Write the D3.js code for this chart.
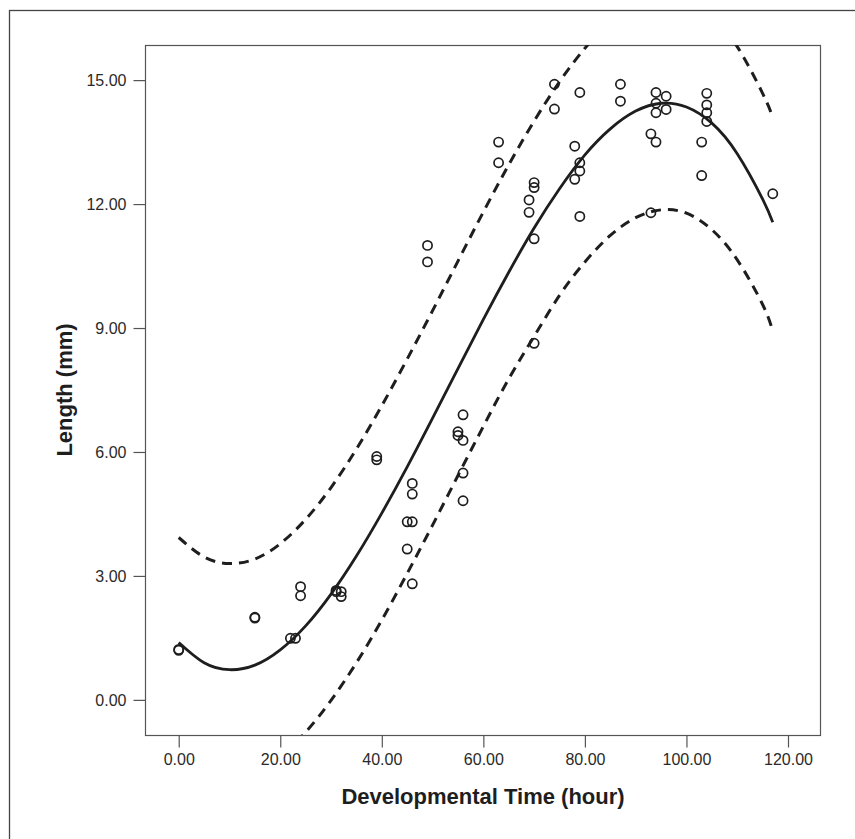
<!DOCTYPE html>
<html>
<head>
<meta charset="utf-8">
<script src="https://cdn.jsdelivr.net/npm/d3@7"></script>
<style>
  html, body { margin: 0; padding: 0; background: #fff; }
  svg { display: block; }
</style>
</head>
<body>
<script>
// ---- data ----
const pointX = [0, 0, 15, 15, 22, 23, 24, 24, 31, 31, 32, 32,
  39, 39, 45, 45, 46, 46, 46, 46, 49, 49,
  55, 55, 56, 56, 56, 56, 63, 63,
  69, 69, 70, 70, 70, 70, 74, 74,
  78, 78, 79, 79, 79, 79, 87, 87,
  93, 93, 94, 94, 94, 94, 96, 96,
  103, 103, 104, 104, 104, 104, 117];
const pointY = [1.20, 1.22, 1.98, 2.00, 1.49, 1.49, 2.74, 2.52, 2.62, 2.65, 2.62, 2.50,
  5.89, 5.81, 4.31, 3.65, 4.31, 5.24, 4.98, 2.81, 11.00, 10.60,
  6.49, 6.40, 6.90, 6.28, 5.49, 4.82, 13.50, 13.00,
  12.10, 11.80, 12.52, 12.40, 11.16, 8.63, 14.90, 14.30,
  13.40, 12.60, 14.70, 13.00, 12.80, 11.70, 14.90, 14.49,
  13.70, 11.79, 14.70, 14.44, 14.21, 13.50, 14.61, 14.29,
  13.50, 12.69, 14.68, 14.40, 14.21, 14.00, 12.25];

// fitted curve and 95% bands
const curveX = [0, 5, 10, 15, 20, 25, 30, 35, 40, 45, 50, 55, 60, 65, 70, 75, 80, 85, 90, 95, 100, 105, 110, 115, 117];
const fitY   = [1.39, 0.90, 0.73, 0.84, 1.21, 1.79, 2.56, 3.48, 4.52, 5.64, 6.82, 8.02, 9.21, 10.35, 11.42, 12.37, 13.19, 13.82, 14.25, 14.44, 14.35, 13.96, 13.22, 12.12, 11.56];
const upperY = [3.93, 3.46, 3.30, 3.41, 3.78, 4.37, 5.14, 6.07, 7.12, 8.25, 9.42, 10.62, 11.81, 12.95, 14.01, 14.96, 15.77, 16.41, 16.84, 17.03, 16.95, 16.55, 15.81, 14.68, 14.10];
const lowerY = [-1.18, -1.67, -1.84, -1.73, -1.36, -0.78, -0.01, 0.90, 1.93, 3.06, 4.23, 5.43, 6.62, 7.77, 8.80, 9.79, 10.60, 11.24, 11.67, 11.86, 11.78, 11.38, 10.65, 9.57, 8.92];

const xTicks = [0, 20, 40, 60, 80, 100, 120];
const yTicks = [0, 3, 6, 9, 12, 15];
const xTitle = "Developmental Time (hour)";
const yTitle = "Length (mm)";

// ---- drawing ----
(function () {
const W = 855, H = 839;
const pL = 145, pR = 821, pT = 45, pB = 735;
const ink = "#1e1e1e";
const font = "'Liberation Sans', Arial, Helvetica, sans-serif";

const svg = d3.select("body").append("svg").attr("width", W).attr("height", H);

// outer frame (extends beyond picture on right/bottom)
svg.append("rect").attr("x", 9.5).attr("y", 10.5).attr("width", 900).attr("height", 900)
  .attr("fill", "none").attr("stroke", "#444").attr("stroke-width", 1.3);

const x = d3.scaleLinear().domain([-6.64, 126.5]).range([pL, pR]);
const y = d3.scaleLinear().domain([-0.85, 15.85]).range([pB, pT]);

svg.append("defs").append("clipPath").attr("id", "clip")
  .append("rect").attr("x", pL).attr("y", pT).attr("width", pR - pL).attr("height", pB - pT);

// plot frame
svg.append("rect").attr("x", pL + 0.5).attr("y", pT + 0.5)
  .attr("width", pR - pL - 1).attr("height", pB - pT)
  .attr("fill", "none").attr("stroke", "#555").attr("stroke-width", 1.2);

// axes
const xAxis = d3.axisBottom(x).tickValues(xTicks).tickSize(12).tickPadding(6).tickFormat(d3.format(".2f"));
const yAxis = d3.axisLeft(y).tickValues(yTicks).tickSize(12).tickPadding(7).tickFormat(d3.format(".2f"));

const gx = svg.append("g").attr("transform", `translate(0,${pB + 0.5})`).call(xAxis);
const gy = svg.append("g").attr("transform", `translate(${pL + 0.5},0)`).call(yAxis);
[gx, gy].forEach(g => {
  g.select(".domain").remove();
  g.selectAll(".tick line").attr("stroke", "#555").attr("stroke-width", 1.2);
  g.selectAll(".tick text").attr("fill", "#2a2a2a").style("font-family", font).style("font-size", "16px");
});

// titles
svg.append("text").attr("x", (pL + pR) / 2).attr("y", 804)
  .attr("text-anchor", "middle").style("font-family", font).style("font-size", "22px")
  .style("font-weight", "bold").attr("fill", ink).text(xTitle);
svg.append("text").attr("transform", `translate(72,${(pT + pB) / 2}) rotate(-90)`)
  .attr("text-anchor", "middle").style("font-family", font).style("font-size", "22px")
  .style("font-weight", "bold").attr("fill", ink).text(yTitle);

// lines
const plot = svg.append("g").attr("clip-path", "url(#clip)");
const mk = ys => d3.line().x((d, i) => x(curveX[i])).y((d, i) => y(ys[i])).curve(d3.curveNatural)(curveX);

plot.append("path").attr("d", mk(upperY)).attr("fill", "none").attr("stroke", ink)
  .attr("stroke-width", 3).attr("stroke-dasharray", "10,7");
plot.append("path").attr("d", mk(lowerY)).attr("fill", "none").attr("stroke", ink)
  .attr("stroke-width", 3).attr("stroke-dasharray", "10,7");
plot.append("path").attr("d", mk(fitY)).attr("fill", "none").attr("stroke", ink)
  .attr("stroke-width", 2.8);

// points
plot.selectAll("circle.pt").data(pointX).enter().append("circle")
  .attr("class", "pt")
  .attr("cx", (d) => x(d))
  .attr("cy", (d, i) => y(pointY[i]))
  .attr("r", 4.6)
  .attr("fill", "none").attr("stroke", ink).attr("stroke-width", 1.7);
})();
</script>
</body>
</html>
